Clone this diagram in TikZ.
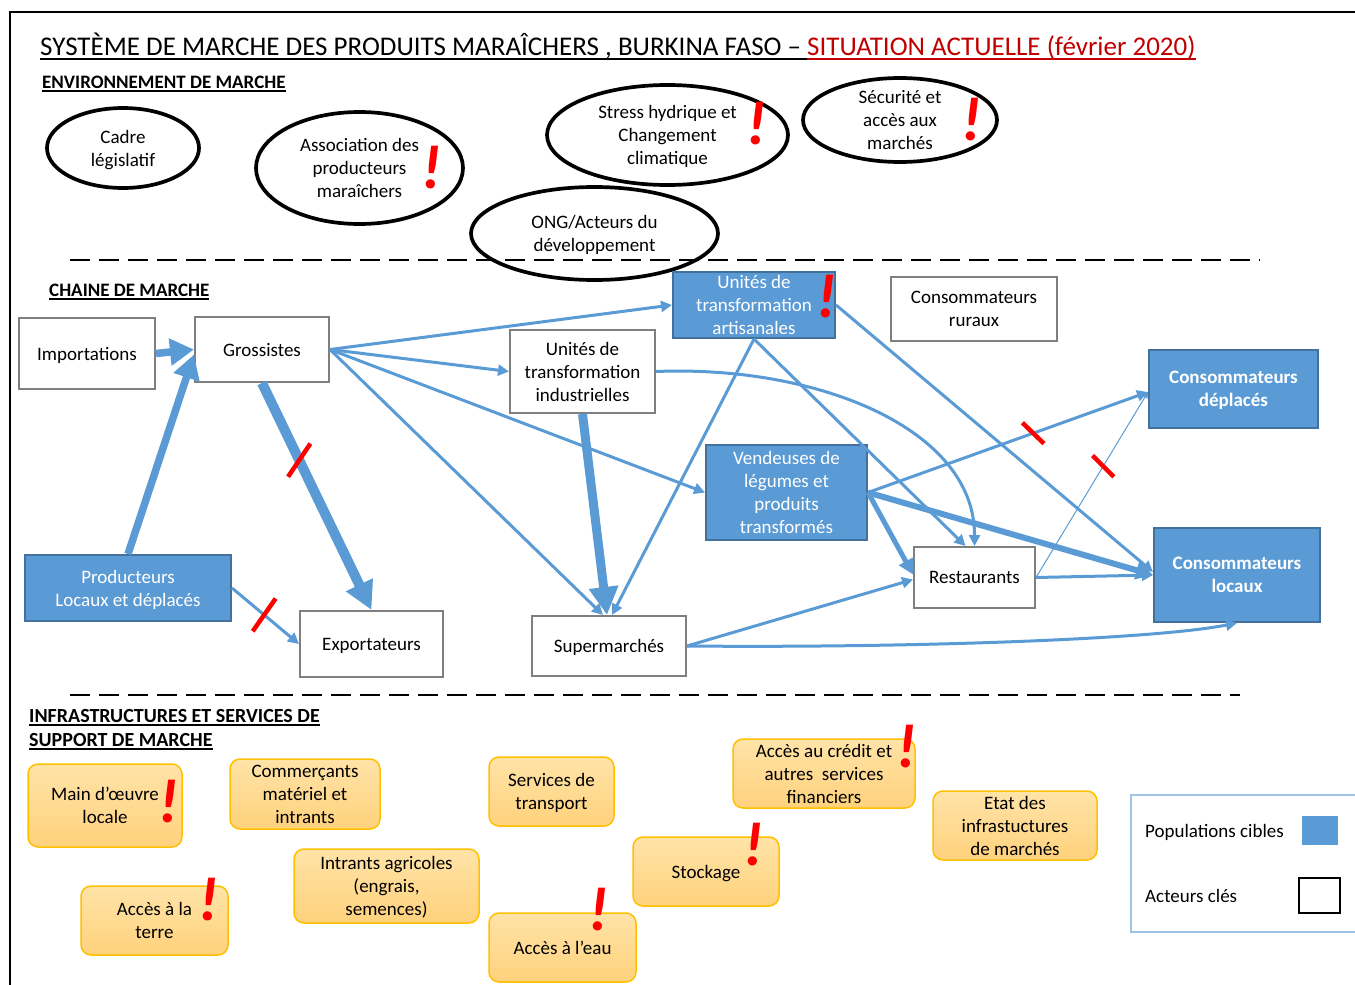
\documentclass[tikz,border=0pt]{standalone}
\usepackage{fontspec}
\setmainfont{Carlito}
\usetikzlibrary{arrows.meta,shapes.geometric}
\definecolor{pblue}{HTML}{5B9BD5}
\definecolor{pbord}{HTML}{41719C}
\definecolor{gbord}{HTML}{7F7F7F}
\definecolor{ored}{HTML}{C00000}
\definecolor{obord}{HTML}{FFC000}
\definecolor{otop}{HTML}{FFE3A8}
\definecolor{obot}{HTML}{FFD27C}
\definecolor{lbord}{HTML}{9DC3E6}
\newsavebox{\ulsave}
\newcommand{\myul}[3]{\sbox{\ulsave}{#3}\rlap{\rule[-#1]{\wd\ulsave}{#2}}\usebox{\ulsave}}
\tikzset{
 txt/.style={font=\fontsize{19}{23}\selectfont, align=center, text depth=-2pt},
 envell/.style={ellipse, draw=black, line width=3.7pt, txt, inner sep=0pt},
 actor/.style={rectangle, draw=gbord, line width=2pt, fill=white, txt, inner sep=0pt},
 target/.style={rectangle, draw=pbord, line width=2pt, fill=pblue, text=white, txt, inner sep=0pt},
 suppbox/.style={rectangle, rounded corners=10pt, draw=obord, line width=1.5pt, top color=otop, bottom color=obot, txt, inner sep=0pt},
 excl/.style={text=red, font=\fontsize{62}{62}\selectfont\bfseries\itshape, inner sep=0pt},
 flow/.style={draw=pblue, line width=3pt, -{Triangle[length=11pt,width=11pt]}},
 midflow/.style={draw=pblue, line width=5pt, -{Triangle[length=15pt,width=15pt]}},
 bigflow/.style={draw=pblue, line width=6pt, -{Triangle[length=17pt,width=18pt]}},
 fat/.style={draw=pblue, line width=7.5pt, -{Triangle[length=24pt,width=26pt]}},
 vfat/.style={draw=pblue, line width=10pt, -{Triangle[length=28pt,width=28pt]}},
 thinflow/.style={draw=pblue, line width=1pt, -{Triangle[length=6pt,width=6pt]}},
 cutmark/.style={rectangle, fill=red, draw=none, inner sep=0pt, minimum width=4.5pt, minimum height=#1},
 cutmark/.default=40pt,
 heading/.style={font=\fontsize{19}{23}\selectfont\bfseries, anchor=base west, inner sep=0pt},
 sepline/.style={draw=black, line width=2.5pt, dash pattern=on 20pt off 9pt},
}
\begin{document}
\begin{tikzpicture}[x=1pt,y=-1pt]
\useasboundingbox (0,0) rectangle (1355,985);
% frame
\draw[line width=2pt] (1355,12) -- (10,12) -- (10,985);
% title
\node[anchor=base west, inner sep=0pt, font=\fontsize{27}{32}\selectfont] (title) at (40,55)
 {\myul{5pt}{2pt}{SYSTÈME DE MARCHE DES PRODUITS MARAÎCHERS , BURKINA FASO – }\textcolor{ored}{\myul{5pt}{2pt}{SITUATION ACTUELLE (février 2020)}}};
% headings
\node[heading] (h1) at (42,88) {\myul{3.5pt}{1.5pt}{ENVIRONNEMENT DE MARCHE}};
\node[heading] (h2) at (49,296) {\myul{3.5pt}{1.5pt}{CHAINE DE MARCHE}};
\node[heading, font=\fontsize{20}{24}\selectfont\bfseries] (h3) at (29,722) {\myul{3.5pt}{1.5pt}{INFRASTRUCTURES ET SERVICES DE}};
\node[heading, font=\fontsize{20}{24}\selectfont\bfseries] (h4) at (29,746) {\myul{3.5pt}{1.5pt}{SUPPORT DE MARCHE}};
% separators
\draw[sepline] (70,260) -- (1260,260);
\draw[sepline] (70,695) -- (1240,695);
% environment ellipses
\node[envell, minimum width=152pt, minimum height=80pt] (cadre) at (123,148) {Cadre\\législatif};
\node[envell, minimum width=207pt, minimum height=112pt] (assoc) at (359.5,168) {Association des\\producteurs\\maraîchers};
\node[envell, minimum width=241pt, minimum height=100pt] (stress) at (667.5,135) {Stress hydrique et\\Changement\\climatique};
\node[envell, minimum width=194pt, minimum height=84pt] (secu) at (900,120) {Sécurité et\\accès aux\\marchés};
\node[envell, minimum width=247pt, minimum height=93pt] (ong) at (594.5,233.5) {ONG/Acteurs du\\développement};
% chain nodes
\node[actor, minimum width=136pt, minimum height=71pt] (imp) at (87,353.5) {Importations};
\node[actor, minimum width=134pt, minimum height=65pt] (gros) at (262,349.5) {Grossistes};
\node[actor, minimum width=145pt, minimum height=83pt] (ui) at (582.5,371.5) {Unités de\\transformation\\industrielles};
\node[target, minimum width=162pt, minimum height=66pt] (ua) at (754,305) {Unités de\\transformation\\artisanales};
\node[actor, minimum width=166pt, minimum height=64pt] (cr) at (974,309) {Consommateurs\\ruraux};
\node[target, minimum width=169pt, minimum height=78pt, font=\fontsize{19}{23}\selectfont\bfseries] (cd) at (1233.5,389) {Consommateurs\\déplacés};
\node[target, minimum width=161pt, minimum height=95pt] (vend) at (786.5,492.5) {Vendeuses de\\légumes et\\produits\\transformés};
\node[actor, minimum width=121pt, minimum height=61pt] (rest) at (974.5,577.5) {Restaurants};
\node[target, minimum width=166pt, minimum height=94pt, font=\fontsize{19}{23}\selectfont\bfseries] (cl) at (1237,575) {Consommateurs\\locaux};
\node[target, minimum width=206pt, minimum height=66pt] (prod) at (128,588) {Producteurs\\Locaux et déplacés};
\node[actor, minimum width=143pt, minimum height=66pt] (exp) at (371.5,644) {Exportateurs};
\node[actor, minimum width=154pt, minimum height=60pt] (sup) at (609,646) {Supermarchés};
% connectors
\draw[fat] (imp.east) -- (gros.west);
\draw[fat] (prod.north) -- ([yshift=-5pt]gros.west);
\draw[vfat] (gros.south) -- (exp.north) node[cutmark, pos=.34, rotate=-34] (cut1) {};
\draw[flow] (prod.east) -- (exp.west) node[cutmark, pos=.48, rotate=-35] (cut2) {};
\draw[flow] (gros.east) -- (ua.west);
\draw[flow] (gros.east) -- (ui.west);
\draw[flow] (gros.east) -- (vend.west);
\draw[flow] (gros.east) -- ([xshift=-6pt]sup.north);
\draw[flow] (ua.south) -- ([xshift=3pt]sup.north);
\draw[vfat, line width=9pt] (ui.south) -- ([xshift=-2pt]sup.north);
\draw[flow] (ua.south) -- ([xshift=-9pt]rest.north);
\draw[flow] (ui.east) .. controls (820,365) and (975,430) .. (rest.north);
\draw[flow] (ua.east) -- ([yshift=3pt]cl.west);
\draw[flow] (vend.east) -- ([yshift=-3pt]cd.west) node[cutmark=30pt, pos=.59, rotate=46] (cut3) {};
\draw[bigflow] (vend.east) -- (cl.west);
\draw[midflow] (vend.east) -- ([yshift=3pt]rest.west);
\draw[flow] (rest.east) -- (cl.west);
\draw[thinflow] (rest.east) -- ([yshift=-3pt]cd.west) node[cutmark=30pt, pos=.60, rotate=45] (cut4) {};
\draw[flow] (sup.east) -- ([yshift=-2pt]rest.west);
\draw[flow] (sup.east) .. controls (900,648) and (1150,640) .. (cl.south);
% support boxes
\node[suppbox, minimum width=154pt, minimum height=83pt] (mo) at (105,805.5) {Main d’œuvre\\locale};
\node[suppbox, minimum width=150pt, minimum height=70pt] (com) at (305,794) {Commerçants\\matériel et\\intrants};
\node[suppbox, minimum width=125pt, minimum height=69pt] (trans) at (551.5,791.5) {Services de\\transport};
\node[suppbox, minimum width=182pt, minimum height=69pt] (cred) at (824,773.5) {Accès au crédit et\\autres\ \ services\\financiers};
\node[suppbox, minimum width=164pt, minimum height=69pt] (etat) at (1015,825.5) {Etat des\\infrastuctures\\de marchés};
\node[suppbox, minimum width=185pt, minimum height=74pt] (intr) at (386.5,886) {Intrants agricoles\\(engrais,\\semences)};
\node[suppbox, minimum width=146pt, minimum height=69pt] (stock) at (706,871.5) {Stockage};
\node[suppbox, minimum width=147pt, minimum height=69pt] (terre) at (154.5,920.5) {Accès à la\\terre};
\node[suppbox, minimum width=147pt, minimum height=69pt] (eau) at (562.5,947.5) {Accès à l’eau};
% exclamation marks
\node[excl] (x1) at (432,168) {!};
\node[excl] (x2) at (757,124) {!};
\node[excl] (x3) at (972,120) {!};
\node[excl] (x4) at (827,297) {!};
\node[excl] (x5) at (169,802) {!};
\node[excl] (x6) at (209,900) {!};
\node[excl] (x7) at (599,910) {!};
\node[excl] (x8) at (754,845) {!};
\node[excl] (x9) at (907,747) {!};
% legend
\draw[lbord, line width=1.5pt] (1355,795) -- (1131,795) -- (1131,932) -- (1355,932);
\node[txt, anchor=west, inner sep=0pt] (lg1) at (1145,831) {Populations cibles};
\node[txt, anchor=west, inner sep=0pt] (lg2) at (1145,896) {Acteurs clés};
\node[rectangle, fill=pblue, draw=none, minimum width=36pt, minimum height=29pt, inner sep=0pt] (lgs1) at (1320,830.5) {};
\node[rectangle, fill=white, draw=black, line width=2.5pt, minimum width=41pt, minimum height=35pt, inner sep=0pt] (lgs2) at (1319.5,895.5) {};
\end{tikzpicture}
\end{document}
